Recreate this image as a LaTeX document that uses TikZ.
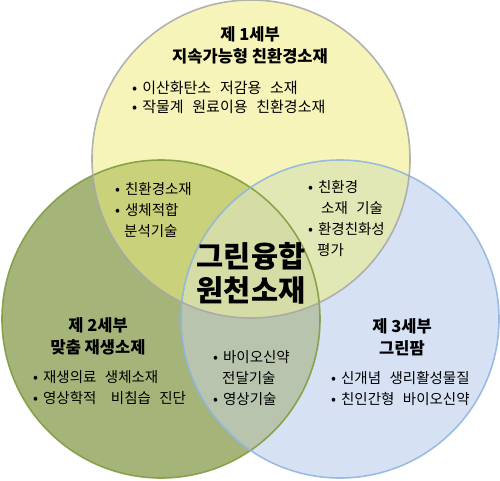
\documentclass[tikz,border=0pt]{standalone}
\usepackage{fontspec}
\setmainfont{Noto Sans CJK KR}
\newfontfamily\bfont{Noto Sans CJK KR}
\newfontfamily\wfont[WordSpace=2.6]{Noto Sans CJK KR}
\newcommand\bul{•\hspace{5pt}}
\definecolor{topc}{HTML}{F6F4B9}
\definecolor{leftc}{HTML}{A5B57A}
\definecolor{rightc}{HTML}{D6E2F4}
\definecolor{tlc}{HTML}{C9D17A}
\definecolor{trc}{HTML}{E2E7B6}
\definecolor{lrc}{HTML}{B8C4AE}
\definecolor{midc}{HTML}{D6DCA5}
\definecolor{topb}{HTML}{A6A6A6}
\definecolor{leftb}{HTML}{7D9A3A}
\definecolor{rightb}{HTML}{8DB3E2}
\tikzset{
  ttl/.style={font=\fontsize{16.5}{19}\selectfont\bfseries, align=center, inner sep=0pt},
  blt/.style={font=\bfont\fontsize{14.5}{21}\selectfont, align=left, anchor=west, inner sep=0pt},
  big/.style={font=\fontsize{29.5}{34}\selectfont\bfseries, align=center, inner sep=0pt},
  ring/.style={line width=1.6pt, draw opacity=0.85}
}
\begin{document}
\begin{tikzpicture}[x=1pt,y=-1pt]
\useasboundingbox (0,0) rectangle (500,480);
\fill[white] (0,0) rectangle (500,480);
\coordinate (T) at (251,159);
\coordinate (L) at (161,319);
\coordinate (R) at (340,319);
\def\rr{159pt}
\fill[topc] (T) circle (\rr);
\fill[leftc] (L) circle (\rr);
\fill[rightc] (R) circle (\rr);
\begin{scope}
  \clip (T) circle (\rr);
  \fill[tlc] (L) circle (\rr);
  \fill[trc] (R) circle (\rr);
\end{scope}
\begin{scope}
  \clip (L) circle (\rr);
  \fill[lrc] (R) circle (\rr);
\end{scope}
\begin{scope}
  \clip (T) circle (\rr);
  \clip (L) circle (\rr);
  \fill[midc] (R) circle (\rr);
\end{scope}
\draw[ring, leftb] (L) circle (\rr);
\draw[ring, rightb] (R) circle (\rr);
\draw[ring, topb] (T) circle (\rr);

\node[ttl] (t1) at (250,45) {제 1세부\\[3pt]지속가능형 친환경소재};
\node[blt, font=\wfont\fontsize{15}{19}\selectfont] (b1) at (132,97) {\bul 이산화탄소 저감용 소재\\\bul 작물계 원료이용 친환경소재};

\node[blt] (tl) at (115,210) {\bul 친환경소재\\\bul 생체적합\\\hspace*{9pt}분석기술};
\node[blt] (tr) at (308,219) {\bul 친환경\\\hspace*{13pt}소재 기술\\\bul 환경친화성\\\hspace*{9pt}평가};

\node[big] (mid) at (251,273) {그린융합\\원천소재};

\node[ttl] (t2) at (98,336) {제 2세부\\[3pt]맞춤 재생소제};
\node[blt] (b2) at (33,388) {\bul 재생의료 생체소재\\\bul 영상학적\hspace{6pt} 비침습 진단};

\node[blt] (bm) at (213,378) {\bul 바이오신약\\\hspace*{9pt}전달기술\\\bul 영상기술};

\node[ttl] (t3) at (402,337) {제 3세부\\[3pt]그린팜};
\node[blt] (b3) at (331,389) {\bul 신개념 생리활성물질\\\bul 친인간형 바이오신약};
\end{tikzpicture}
\end{document}
